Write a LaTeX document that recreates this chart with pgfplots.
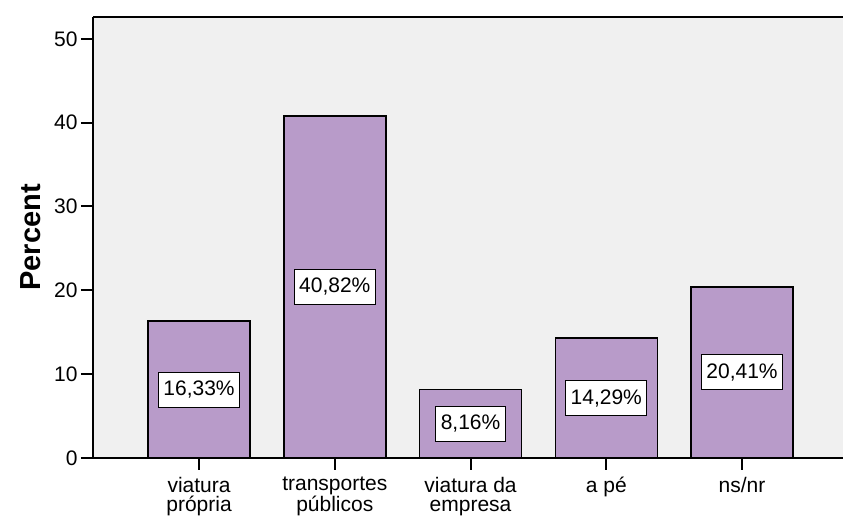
\documentclass[border=0pt]{standalone}
\usepackage{pgfplots}
\pgfplotsset{compat=1.18}
\usepackage{pgfplotstable}
\usepackage{fontspec}
\setmainfont{Liberation Sans}
\definecolor{barfill}{RGB}{184,155,201}
\definecolor{bgc}{RGB}{240,240,240}

\pgfplotstableread{
x y
0 16.33
1 40.82
2 8.16
3 14.29
4 20.41
}\data

\begin{document}
\begin{tikzpicture}
\begin{axis}[
  scale only axis,
  width=770pt, height=441pt,
  xmin=-0.781, xmax=4.891,
  ymin=0, ymax=52.6,
  axis background/.style={fill=bgc},
  axis x line=bottom, axis y line=left,
  axis line style={-, line width=2pt, black},
  ytick={0,10,20,30,40,50},
  xtick={0,1,2,3,4},
  xticklabels={{viatura\\própria},{transportes\\públicos},{viatura da\\empresa},{a pé},{ns/nr}},
  tick align=outside,
  major tick length=12pt,
  tick style={line width=2pt, black},
  /pgf/number format/assume math mode=true,
  yticklabel style={font=\fontsize{21}{24}\selectfont},
  xticklabel style={font=\fontsize{21}{19}\selectfont, align=center, inner sep=0pt, yshift=-7pt},
  ylabel={Percent},
  ylabel style={font=\fontsize{29}{33}\selectfont\bfseries, at={(axis description cs:-0.0806,0.5)}, anchor=center},
  clip=false,
]
\addplot[ybar, bar width=102pt, fill=barfill, draw=black, line width=1.5pt] table[x=x,y=y]{\data};
\addplot[draw=none, mark=none,
  nodes near coords={\pgfmathprintnumber[fixed,fixed zerofill,precision=2,use comma]{\pgfplotspointmeta}\%},
  point meta=explicit,
  every node near coord/.append style={anchor=center, fill=white, draw=black, line width=1pt, font=\fontsize{21}{24}\selectfont, inner xsep=5pt, minimum height=35pt}
] table[x=x, y expr=\thisrow{y}/2, meta=y]{\data};
\draw[line width=2pt] (rel axis cs:0,1) -- (rel axis cs:1,1);
\end{axis}
\pgfresetboundingbox
\useasboundingbox (-93pt,-60pt) rectangle (750pt,458pt);
\end{tikzpicture}
\end{document}
